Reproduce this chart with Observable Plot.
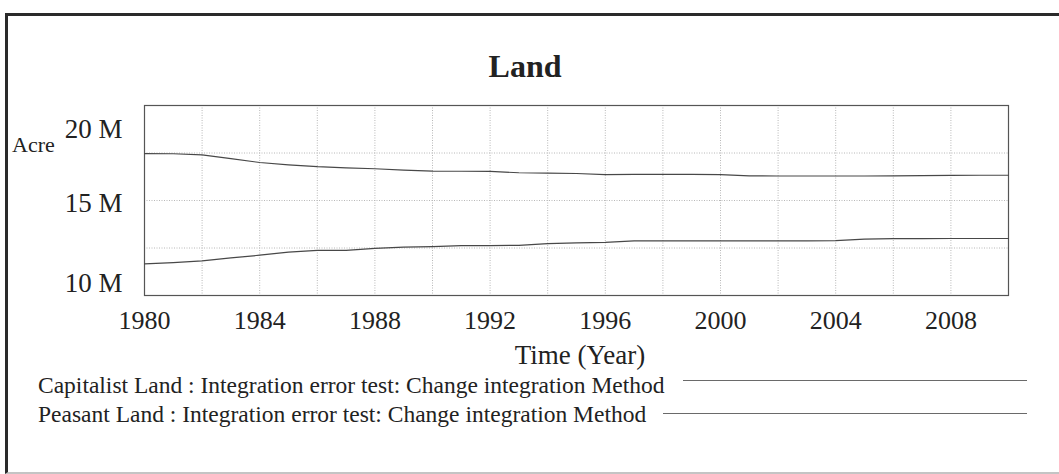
<!DOCTYPE html>
<html>
<head>
<meta charset="utf-8">
<script src="https://cdn.jsdelivr.net/npm/d3@7"></script>
<script src="https://cdn.jsdelivr.net/npm/@observablehq/plot@0.6"></script>
<style>
  html, body { margin: 0; padding: 0; background: #fff; overflow: hidden; }
  #wrap { position: relative; width: 1059px; height: 474px; font-family: "Liberation Serif", "Times New Roman", serif; color: #222; }
  #outer { position: absolute; left: 5px; top: 13px; width: 1100px; height: 456px;
           border-left: 3px solid #2a2a2a; border-top: 3px solid #2a2a2a; border-bottom: 2px solid #c4c4c4; }
  .t { position: absolute; white-space: nowrap; line-height: 1; }
  .leg { position: absolute; height: 0; border-top: 1.2px solid #6a6a6a; }
  #chart { position: absolute; left: 0; top: 0; }
</style>
</head>
<body>
<div id="wrap">
  <div id="outer"></div>
  <div id="chart"></div>
</div>
<script>
// ---- data ----
const years = [1980, 1981, 1982, 1983, 1984, 1985, 1986, 1987, 1988, 1989, 1990,
               1991, 1992, 1993, 1994, 1995, 1996, 1997, 1998, 1999, 2000,
               2001, 2002, 2003, 2004, 2005, 2006, 2007, 2008, 2009, 2010];
const capitalistLand = [17.47, 17.46, 17.40, 17.20, 17.00, 16.88, 16.78, 16.72, 16.67, 16.60, 16.55,
                        16.54, 16.53, 16.46, 16.44, 16.42, 16.36, 16.37, 16.38, 16.38, 16.36,
                        16.30, 16.29, 16.29, 16.29, 16.29, 16.30, 16.31, 16.32, 16.33, 16.33];
const peasantLand = [11.66, 11.73, 11.82, 11.98, 12.12, 12.28, 12.37, 12.38, 12.48, 12.55, 12.57,
                     12.62, 12.63, 12.64, 12.73, 12.77, 12.80, 12.87, 12.87, 12.87, 12.87,
                     12.87, 12.87, 12.88, 12.89, 12.97, 12.99, 12.99, 13.00, 13.00, 13.00];
const seriesNames = ["Capitalist Land : Integration error test: Change integration Method",
                     "Peasant Land : Integration error test: Change integration Method"];
const xTicks = [1980, 1984, 1988, 1992, 1996, 2000, 2004, 2008];
const xGrid = [1982, 1984, 1986, 1988, 1990, 1992, 1994, 1996, 1998, 2000, 2002, 2004, 2006, 2008];
const yGrid = [12.5e6, 15e6, 17.5e6];
const xDomain = [1980, 2010];
const yDomain = [10e6, 20e6];
const title = "Land";
const yUnit = "Acre";
const xTitle = "Time (Year)";

// ---- build table ----
const capRows = years.map((y, i) => ({year: y, value: capitalistLand[i] * 1e6}));
const peaRows = years.map((y, i) => ({year: y, value: peasantLand[i] * 1e6}));
const fmtM = d => `${d / 1e6} M`;
const lineColor = "#484848";
const gridStyle = {stroke: "#b8b8b8", strokeOpacity: 1, strokeDasharray: "1,1.5"};

const chart = Plot.plot({
  width: 1059,
  height: 474,
  marginLeft: 144,
  marginRight: 51,
  marginTop: 105,
  marginBottom: 179,
  x: {domain: xDomain},
  y: {domain: yDomain},
  style: {fontFamily: "'Liberation Serif', 'Times New Roman', serif", background: "transparent", color: "#222", overflow: "visible"},
  marks: [
    Plot.gridX(xGrid, gridStyle),
    Plot.gridY(yGrid, gridStyle),
    Plot.frame({stroke: "#555", strokeWidth: 1.2}),
    Plot.lineY(capRows, {x: "year", y: "value", stroke: lineColor, strokeWidth: 1.2}),
    Plot.lineY(peaRows, {x: "year", y: "value", stroke: lineColor, strokeWidth: 1.2}),
    Plot.axisX(xTicks, {tickSize: 0, tickPadding: 15, fontSize: 26, tickFormat: d => String(d), label: null, fill: "#222"}),
    Plot.axisY([yDomain[1]], {tickSize: 0, tickPadding: 22, fontSize: 27, dy: 24, tickFormat: fmtM, label: null, fill: "#222"}),
    Plot.axisY([15e6], {tickSize: 0, tickPadding: 22, fontSize: 27, dy: 3, tickFormat: fmtM, label: null, fill: "#222"}),
    Plot.axisY([yDomain[0]], {tickSize: 0, tickPadding: 22, fontSize: 27, dy: -12, tickFormat: fmtM, label: null, fill: "#222"})
  ]
});
document.getElementById("chart").appendChild(chart);

// ---- text overlays ----
const wrap = document.getElementById("wrap");
function addText(txt, opts) {
  const d = document.createElement("div");
  d.className = "t";
  d.textContent = txt;
  d.style.fontSize = opts.size + "px";
  d.style.top = (opts.baseline - 0.8375 * opts.size) + "px";
  if (opts.bold) d.style.fontWeight = "bold";
  if (opts.center != null) {
    d.style.left = opts.center + "px";
    d.style.transform = "translateX(-50%)";
  } else {
    d.style.left = opts.left + "px";
  }
  wrap.appendChild(d);
  return d;
}
addText(title, {size: 32, baseline: 77, center: 525, bold: true});
addText(yUnit, {size: 22, baseline: 152, left: 12});
addText(xTitle, {size: 27, baseline: 365, center: 580});

const legendRows = [
  {name: seriesNames[0], baseline: 394, lineY: 380, lineX0: 683},
  {name: seriesNames[1], baseline: 423, lineY: 413, lineX0: 663}
];
legendRows.forEach(r => {
  addText(r.name, {size: 23.5, baseline: r.baseline, left: 38});
  const l = document.createElement("div");
  l.className = "leg";
  l.style.left = r.lineX0 + "px";
  l.style.top = r.lineY + "px";
  l.style.width = (1027 - r.lineX0) + "px";
  wrap.appendChild(l);
});
</script>
</body>
</html>
